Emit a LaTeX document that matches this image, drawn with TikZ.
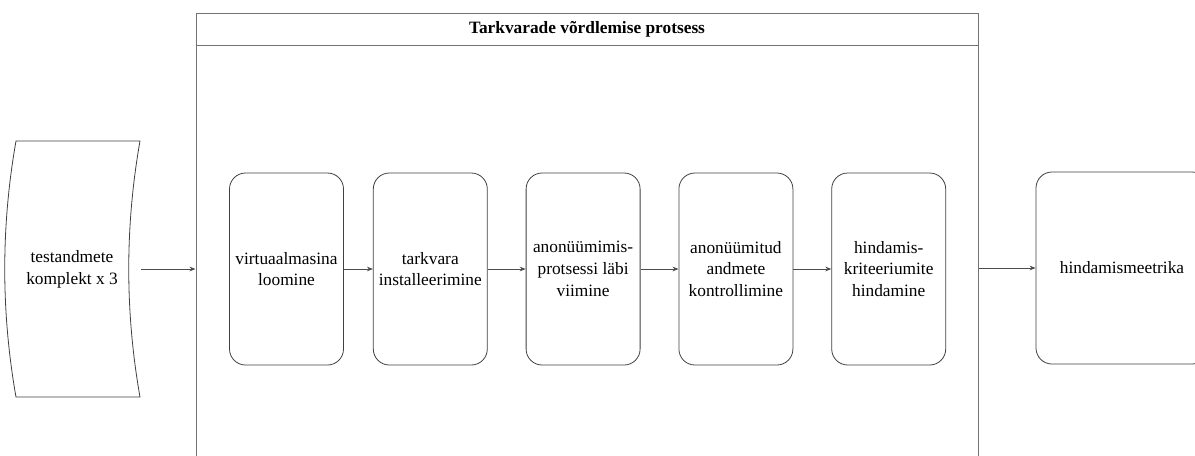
\documentclass[tikz,border=0pt]{standalone}
\usepackage{fontspec}
\setmainfont{Liberation Serif}
\usepackage{tikz}
\usetikzlibrary{arrows.meta,positioning,calc}

\begin{document}
\begin{tikzpicture}[x=0.75pt, y=-0.75pt, font=\fontsize{13pt}{16.3pt}\selectfont, stepbox/.style={draw=black!75, line width=0.6pt, rounded corners=12pt, align=center, minimum width=85.5pt, minimum height=144pt, inner sep=2pt}, arr/.style={-{Stealth[length=4.5pt, width=3.5pt]}, draw=black!70, line width=0.6pt}]
\useasboundingbox (0,0) rectangle (1195,455);
\clip (0,0) rectangle (1195,455);
% container with title bar
\node[draw=black!55, line width=0.75pt, minimum width=586.5pt, minimum height=342.75pt] (pool) at (587,241.5) {};
\node[draw=black!55, line width=0.75pt, minimum width=586.5pt, minimum height=24pt, font=\fontsize{13pt}{16pt}\selectfont\bfseries] (title) at (587,29) {Tarkvarade võrdlemise protsess};
% input data
\draw[black!75, line width=0.6pt] (16,141) -- (140,141) .. controls (125,226) and (125,312) .. (140,397) -- (16,397) .. controls (1,312) and (1,226) .. (16,141) -- cycle;
\node[align=center, minimum width=103.5pt, minimum height=192pt, inner sep=0pt] (data) at (72,269) {testandmete\\komplekt x 3};
% steps
\node[stepbox] (vm) at (286.5,269) {virtuaalmasina\\loomine};
\node[stepbox, right=21.75pt of vm] (install) {tarkvara\\installeerimine};
\node[stepbox, right=28.5pt of install] (anon) {anonüümimis-\\protsessi läbi\\viimine};
\node[stepbox, right=28.5pt of anon] (check) {anonüümitud\\andmete\\kontrollimine};
\node[stepbox, right=28.5pt of check] (eval) {hindamis-\\kriteeriumite\\hindamine};
\node[stepbox, minimum width=129pt] (result) at (1122,268) {hindamismeetrika};
\draw[arr] (data.east) -- (data.east -| pool.west);
\draw[arr] (vm) -- (install);
\draw[arr] (install) -- (anon);
\draw[arr] (anon) -- (check);
\draw[arr] (check) -- (eval);
\draw[arr] (pool.east |- result.west) -- (result.west);
\end{tikzpicture}
\end{document}
